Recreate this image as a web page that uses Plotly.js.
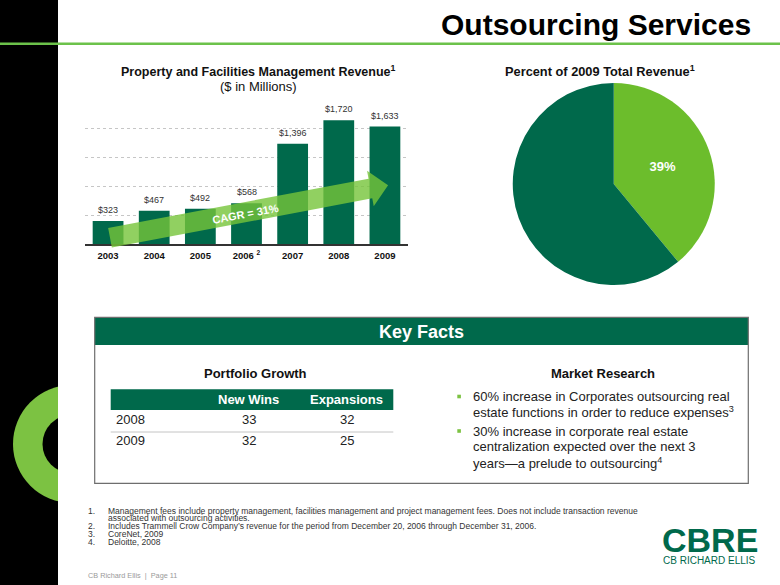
<!DOCTYPE html>
<html>
<head>
<meta charset="utf-8">
<script src="https://cdn.plot.ly/plotly-3.0.1.min.js"></script>
<style>
  html, body { margin: 0; padding: 0; background: #ffffff; }
  #chart { width: 780px; height: 585px; }
</style>
</head>
<body>
<div id="chart"></div>
<script>
// ---------- DATA ----------
const years = ['2003', '2004', '2005', '2006', '2007', '2008', '2009'];
const yearTickLabels = ['2003', '2004', '2005', '2006 <sup>2</sup>', '2007', '2008', '2009'];
const revenue = [323, 467, 492, 568, 1396, 1720, 1633];

const pieLabels = ['Outsourcing Services', 'Other Revenue'];
const pieShare = [39, 61];

const tableHeaders = ['New Wins', 'Expansions'];
const tableYears = ['2008', '2009'];
const newWins = [33, 32];
const expansions = [32, 25];

const bulletLines = [
  ['60% increase in Corporates outsourcing real', 'estate functions in order to reduce expenses<sup>3</sup>'],
  ['30% increase in corporate real estate', 'centralization expected over the next 3', 'years\u2014a prelude to outsourcing<sup>4</sup>']
];

const footnoteNumbers = ['1.', '', '2.', '3.', '4.'];
const footnoteLines = [
  'Management fees include property management, facilities management and project management fees. Does not include transaction revenue',
  'associated with outsourcing activities.',
  'Includes Trammell Crow Company\u2019s revenue for the period from December 20, 2006 through December 31, 2006.',
  'CoreNet, 2009',
  'Deloitte, 2008'
];

// ---------- HELPERS ----------
const W = 780, H = 585;
const X = p => p / W;
const Y = p => 1 - p / H;
const FONT = 'Liberation Sans, Arial, sans-serif';
const NARROW = 'Liberation Sans Narrow, Liberation Sans, Arial, sans-serif';
const DARK_GREEN = '#00694b';
const LIGHT_GREEN = '#6cbd2c';

function ann(text, x, y, o) {
  o = o || {};
  return {
    text: text, xref: 'paper', yref: 'paper', x: X(x), y: Y(y),
    xanchor: o.xa || 'center', yanchor: 'middle', showarrow: false,
    textangle: o.angle || 0,
    font: { family: o.family || FONT, size: o.size || 13, color: o.color || '#111', weight: o.bold ? 'bold' : 'normal' }
  };
}
function rect(x0, y0, x1, y1, fill, line, layer) {
  return {
    type: 'rect', xref: 'paper', yref: 'paper', x0: X(x0), x1: X(x1), y0: Y(y0), y1: Y(y1),
    fillcolor: fill || 'rgba(0,0,0,0)', line: line || { width: 0 }, layer: layer || 'below'
  };
}
function circle(cx, cy, r, fill) {
  return {
    type: 'circle', xref: 'paper', yref: 'paper', x0: X(cx - r), x1: X(cx + r), y0: Y(cy - r), y1: Y(cy + r),
    fillcolor: fill, line: { width: 0 }, layer: 'below'
  };
}

// ---------- SHAPES ----------
const shapes = [];
shapes.push(rect(0, 0, 58, H, '#000000'));
shapes.push(circle(72, 444, 59, '#7cc242'));
shapes.push(circle(72, 444, 29.5, '#000000'));
shapes.push(rect(58, 378, 150, 512, '#ffffff'));
shapes.push({ type: 'line', xref: 'paper', yref: 'paper', x0: 0, x1: 1, y0: Y(43.8), y1: Y(43.8),
  line: { color: '#6cc24a', width: 2.5 }, layer: 'below' });

// Key facts box
shapes.push(rect(94.7, 317.3, 748.3, 345, DARK_GREEN));
shapes.push(rect(94.7, 317.3, 748.3, 483.3, null, { color: '#6e6e6e', width: 1.2 }));
// table header band & separator
shapes.push(rect(110.7, 389.3, 393.3, 410, DARK_GREEN));
shapes.push({ type: 'line', xref: 'paper', yref: 'paper', x0: X(110.7), x1: X(393.3), y0: Y(432), y1: Y(432),
  line: { color: '#c4c4c4', width: 1 }, layer: 'below' });
// bullets
const bulletY = [396.5, 431];
bulletY.forEach(by => shapes.push(rect(457.3, by - 1.8, 460.9, by + 1.8, '#7cc242')));

// CAGR arrow (decoration)
(function () {
  const T = [110, 237.7], ang = 10.7 * Math.PI / 180;
  const u = [Math.cos(ang), -Math.sin(ang)], n = [Math.sin(ang), Math.cos(ang)];
  const w = 10, hw = 18, L1 = 265, L2 = 283;
  const pt = (a, b) => [T[0] + u[0] * a + n[0] * b, T[1] + u[1] * a + n[1] * b];
  const pts = [pt(0, -w), pt(L1, -w), pt(L1, -hw), pt(L2, 0), pt(L1, hw), pt(L1, w), pt(0, w)];
  const path = pts.map((p, i) => (i ? 'L' : 'M') + X(p[0]).toFixed(5) + ',' + Y(p[1]).toFixed(5)).join(' ') + ' Z';
  shapes.push({ type: 'path', xref: 'paper', yref: 'paper', path: path,
    fillcolor: 'rgba(118,196,58,0.80)', line: { width: 0 }, layer: 'above' });
})();

// ---------- ANNOTATIONS ----------
const annotations = [];
annotations.push(ann('Outsourcing Services', 753, 24.5, { xa: 'right', size: 30, bold: true, color: '#000' }));
annotations.push(ann('Property and Facilities Management Revenue<sup>1</sup>', 258, 71, { size: 12.5, bold: true }));
annotations.push(ann('($ in Millions)', 258, 86.7, { size: 13 }));
annotations.push(ann('Percent of 2009 Total Revenue<sup>1</sup>', 599.5, 71, { size: 12.8, bold: true }));

// bar value labels (x given as category index)
revenue.forEach((v, i) => {
  annotations.push({
    text: '$' + v.toLocaleString('en-US'), xref: 'x', yref: 'y', x: i, y: v,
    xanchor: 'center', yanchor: 'bottom', yshift: 4, showarrow: false,
    font: { family: FONT, size: 9, color: '#333' }
  });
});
annotations.push(ann('CAGR = 31%', 245, 214.3, { size: 11, bold: true, color: '#ffffff', angle: -10.7 }));

// Key facts
annotations.push(ann('Key Facts', 421, 332.3, { size: 18, bold: true, color: '#ffffff', family: NARROW }));
annotations.push(ann('Portfolio Growth', 255.7, 373.3, { size: 13, bold: true }));
annotations.push(ann('Market Research', 603, 373.3, { size: 13, bold: true }));
const colX = [248.7, 346.7];
tableHeaders.forEach((h, i) => annotations.push(ann(h, colX[i], 399.5, { size: 13, bold: true, color: '#ffffff' })));
const rowY = [419.5, 440.5];
tableYears.forEach((yr, r) => {
  annotations.push(ann(yr, 113.5, rowY[r], { xa: 'left', size: 13, color: '#222' }));
  annotations.push(ann(String(newWins[r]), colX[0], rowY[r], { size: 13, color: '#222' }));
  annotations.push(ann(String(expansions[r]), colX[1], rowY[r], { size: 13, color: '#222' }));
});
const lineStep = 15.8;
bulletLines.forEach((lines, b) => {
  lines.forEach((t, k) => {
    annotations.push(ann(t, 470.5, bulletY[b] + k * lineStep, { xa: 'left', size: 13, color: '#222' }));
  });
});

// footnotes
const footY = [510.5, 518.3, 526.1, 533.9, 541.7];
footnoteLines.forEach((t, i) => {
  if (footnoteNumbers[i]) annotations.push(ann(footnoteNumbers[i], 85.5, footY[i], { xa: 'left', size: 8.5, color: '#333' }));
  annotations.push(ann(t, 105.5, footY[i], { xa: 'left', size: 8.5, color: '#333' }));
});
annotations.push(ann('CB Richard Ellis  |  Page 11', 85.5, 575.7, { xa: 'left', size: 7.3, color: '#9a9a9a' }));

// logo
annotations.push(ann('CBRE', 710, 539.5, { size: 34, bold: true, color: '#00694b' }));
annotations.push(ann('CB RICHARD ELLIS', 709.5, 560.5, { size: 10, color: '#00694b' }));

// ---------- TRACES ----------
const barTrace = {
  type: 'bar', x: years, y: revenue, xaxis: 'x', yaxis: 'y',
  marker: { color: DARK_GREEN, line: { width: 0 } },
  hoverinfo: 'skip', showlegend: false
};
const pieTrace = {
  type: 'pie', labels: pieLabels, values: pieShare, sort: false, direction: 'clockwise', rotation: 0,
  marker: { colors: [LIGHT_GREEN, DARK_GREEN], line: { width: 0 } },
  texttemplate: ['%{percent:.0%}', ''], textposition: 'inside', insidetextorientation: 'horizontal',
  textfont: { family: FONT, size: 13, color: '#ffffff', weight: 'bold' },
  domain: { x: [X(512.5), X(715)], y: [Y(285), Y(83)] },
  hoverinfo: 'skip', showlegend: false
};

const layout = {
  width: W, height: H, margin: { l: 0, r: 0, t: 0, b: 0 },
  paper_bgcolor: '#ffffff', plot_bgcolor: 'rgba(0,0,0,0)',
  showlegend: false, bargap: 0.333,
  font: { family: FONT },
  xaxis: {
    domain: [X(85), X(408)], anchor: 'y', type: 'category',
    categoryorder: 'array', categoryarray: years, range: [-0.5, years.length - 0.5],
    tickvals: years, ticktext: yearTickLabels, ticks: '', ticklabelstandoff: 2,
    tickfont: { family: FONT, size: 9.5, color: '#111', weight: 'bold' },
    showline: true, linecolor: '#333', linewidth: 1.5, showgrid: false, zeroline: false, fixedrange: true
  },
  yaxis: {
    domain: [Y(244.3), Y(100)], anchor: 'x', range: [0, 2002], tick0: 0, dtick: 400,
    showticklabels: false, ticks: '', showgrid: true, gridcolor: '#c6c6c6', griddash: 'dot', gridwidth: 1,
    zeroline: false, showline: false, fixedrange: true
  },
  shapes: shapes,
  annotations: annotations
};

Plotly.newPlot('chart', [barTrace, pieTrace], layout, { staticPlot: true, displayModeBar: false });
</script>
</body>
</html>
